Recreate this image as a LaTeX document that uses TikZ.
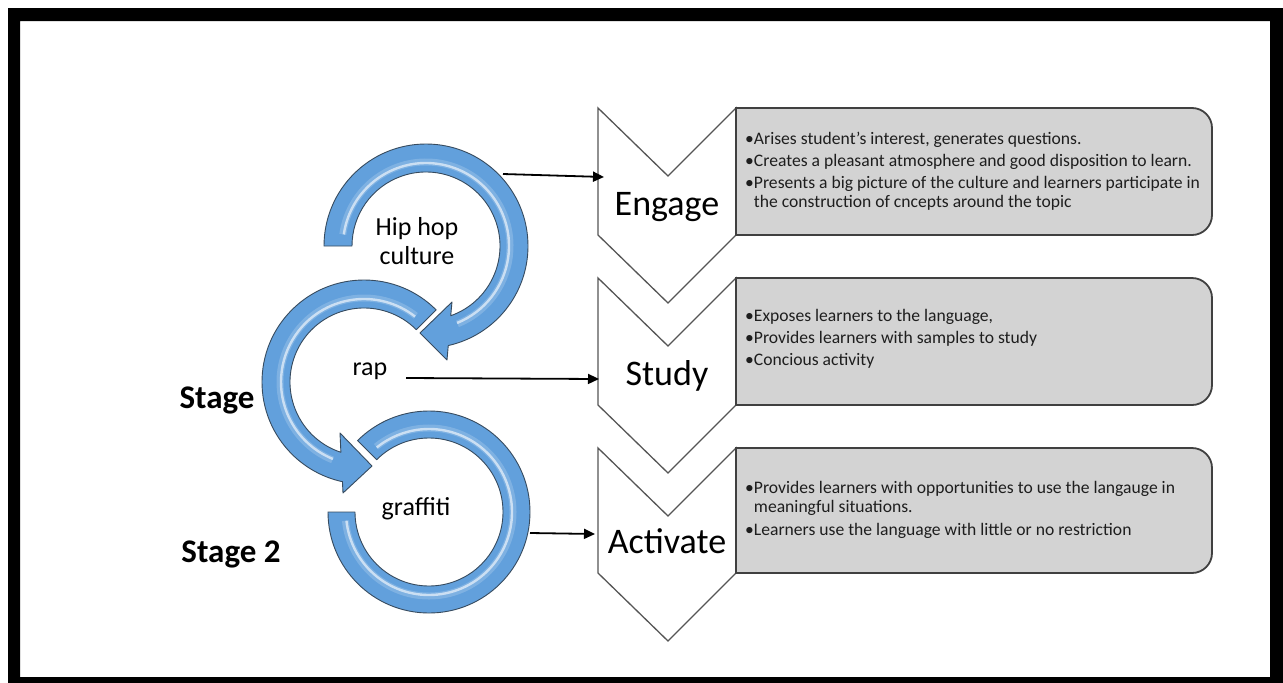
\documentclass[tikz,border=0pt]{standalone}
\usepackage{fontspec}
\setmainfont{Carlito}
\usetikzlibrary{arrows.meta}
\definecolor{ringblue}{RGB}{98,160,220}
\definecolor{ringedge}{RGB}{55,75,95}
\definecolor{boxgray}{RGB}{211,211,211}
\definecolor{boxedge}{RGB}{64,64,64}
\definecolor{chevedge}{RGB}{85,85,85}
\definecolor{txt}{RGB}{30,30,30}
\begin{document}
\begin{tikzpicture}[x=1pt,y=-1pt,
 ring/.style={fill=ringblue, draw=ringedge, line width=0.9pt, line join=round},
 shine/.style={draw=white, line width=2.4pt, opacity=0.6},
 softshine/.style={draw=white, line width=7pt, opacity=0.18},
 chev/.style={fill=white, draw=chevedge, line width=1.3pt, line join=miter},
 infobox/.style={fill=boxgray, draw=boxedge, line width=1.8pt},
 bullettext/.style={anchor=base west, inner sep=0pt, text=txt, font=\fontsize{17.6}{20}\selectfont},
 stagetitle/.style={anchor=base, inner sep=0pt, text=black, font=\fontsize{36}{40}\selectfont},
 ringlabel/.style={anchor=base, inner sep=0pt, text=black, font=\fontsize{26}{28}\selectfont},
 sidelabel/.style={anchor=base, inner sep=0pt, text=black, font=\bfseries\fontsize{33}{36}\selectfont},
 link/.style={draw=black, line width=1.8pt, -{Triangle[length=11pt,width=10pt]}}]

\useasboundingbox (0,0) rectangle (1283,683);
\fill[white] (0,0) rectangle (1283,683);
\fill[black, even odd rule] (8,8) rectangle (1283,683) (20,21) rectangle (1270,677);

% ---------- circular arrows ----------
\begin{scope}[shift={(426,246)}]
 \path[ring] (180:102) arc[start angle=180, end angle=437.4, radius=102]
   -- (21,114) -- (-6,87) -- (26,56) -- (430.5:74)
   arc[start angle=430.5, end angle=180, radius=74] -- cycle;
 \draw[softshine] (188:84) arc[start angle=188, end angle=428, radius=84];
 \draw[shine] (188:83) arc[start angle=188, end angle=428, radius=83];
\end{scope}

\begin{scope}[shift={(364,382)}]
 \path[ring] (-45:102) arc[start angle=-45, end angle=-257.8, radius=102]
   -- (-21,111) -- (8,84) -- (-24,51) -- (-251.8:74)
   arc[start angle=-251.8, end angle=-45, radius=74] -- cycle;
 \draw[softshine] (-52:84) arc[start angle=-52, end angle=-248, radius=84];
 \draw[shine] (-52:83) arc[start angle=-52, end angle=-248, radius=83];
\end{scope}

\begin{scope}[shift={(429,512)}]
 \path[ring] (180:101) arc[start angle=180, end angle=-135, radius=101]
   -- (-135:74) arc[start angle=-135, end angle=180, radius=74] -- cycle;
 \draw[softshine] (174:84) arc[start angle=174, end angle=-129, radius=84];
 \draw[shine] (174:83) arc[start angle=174, end angle=-129, radius=83];
\end{scope}

\node[ringlabel] (hiphop) at (417,235) {Hip hop};
\node[ringlabel] (culture) at (417,264) {culture};
\node[ringlabel] (rap) at (370,375) {rap};
\node[ringlabel] (graffiti) at (416,515) {graffiti};
\node[sidelabel] (stage1) at (217,408) {Stage};
\node[sidelabel] (stage2) at (231,562) {Stage 2};

% ---------- chevrons ----------
\path[chev] (598,108) -- (668,176) -- (736,108) -- (736,235) -- (668,303) -- (598,235) -- cycle;
\path[chev] (598,278) -- (668,346) -- (736,278) -- (736,405) -- (668,473) -- (598,405) -- cycle;
\path[chev] (598,448) -- (668,516) -- (736,448) -- (736,573) -- (668,641) -- (598,573) -- cycle;

\node[stagetitle] (engage) at (667,215) {Engage};
\node[stagetitle] (study) at (667,385) {Study};
\node[stagetitle] (activate) at (667,553) {Activate};

% ---------- info boxes ----------
\path[infobox] (736,108) -- (1192,108) arc[start angle=-90, end angle=0, radius=20]
  -- (1212,215) arc[start angle=0, end angle=90, radius=20] -- (736,235) -- cycle;
\path[infobox] (736,278) -- (1192,278) arc[start angle=-90, end angle=0, radius=20]
  -- (1212,385) arc[start angle=0, end angle=90, radius=20] -- (736,405) -- cycle;
\path[infobox] (736,448) -- (1192,448) arc[start angle=-90, end angle=0, radius=20]
  -- (1212,553) arc[start angle=0, end angle=90, radius=20] -- (736,573) -- cycle;

\node[bullettext] (e1) at (745,144) {•Arises student's interest, generates questions.};
\node[bullettext] (e2) at (745,166) {•Creates a pleasant atmosphere and good disposition to learn.};
\node[bullettext] (e3) at (745,188) {•Presents a big picture of the culture and learners participate in};
\node[bullettext] (e4) at (745,207) {\hphantom{•}the construction of cncepts around the topic};

\node[bullettext] (s1) at (745,321) {•Exposes learners to the language,};
\node[bullettext] (s2) at (745,343) {•Provides learners with samples to study};
\node[bullettext] (s3) at (745,365) {•Concious activity};

\node[bullettext] (a1) at (745,493) {•Provides learners with opportunities to use the langauge in};
\node[bullettext] (a2) at (745,512) {\hphantom{•}meaningful situations.};
\node[bullettext] (a3) at (745,535) {•Learners use the language with little or no restriction};

% ---------- connectors ----------
\coordinate (hhout) at (503,174);
\coordinate (engin) at (604,177);
\coordinate (rapout) at (406,378);
\coordinate (studyin) at (599,379);
\coordinate (grout) at (530,533);
\coordinate (actin) at (595,534);
\draw[link] (hhout) -- (engin);
\draw[link] (rapout) -- (studyin);
\draw[link] (grout) -- (actin);
\end{tikzpicture}
\end{document}
